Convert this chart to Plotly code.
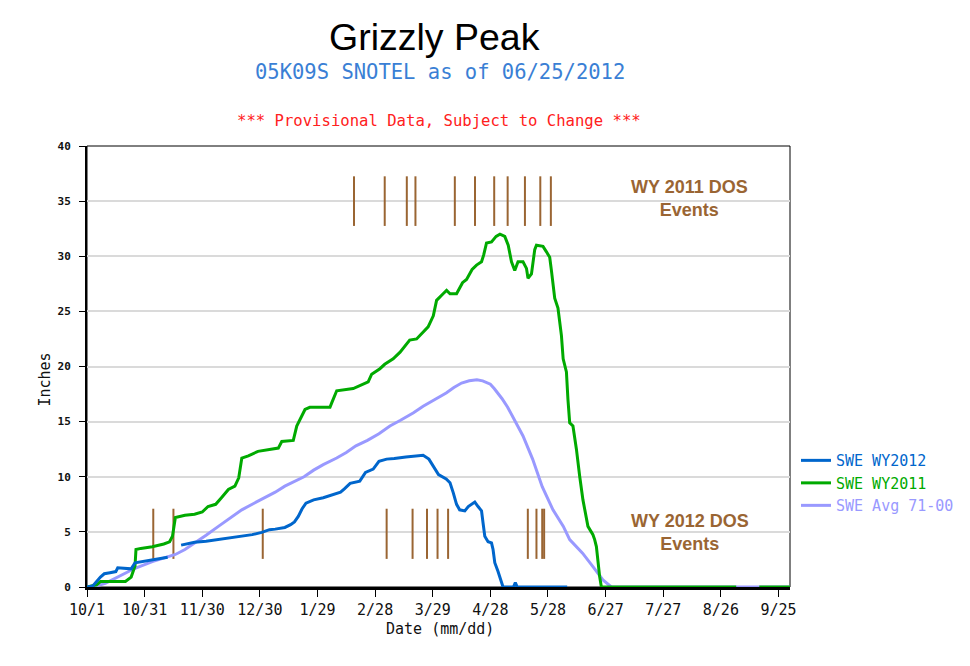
import plotly.graph_objects as go

# ---- data (day of water year, 0 = 10/1) ----
wy2012_day = [0, 3, 7, 9, 12, 15, 16, 20, 23, 25, 30, 34, 38, 42, None, 49, 53, 56, 62, 68, 75, 80, 86, 91, 95, 98,
              103, 106, 108, 110, 112, 114, 118, 123, 128, 132, 134, 137, 142, 145, 149, 152, 156, 160, 166, 171,
              175, 178, 181, 183, 187, 189, 190.7, 192.4, 194, 196.7, 198.5, 200.2, 201.9, 203.6, 205.4, 206.2,
              207.1, 208.8, 210.6, 211.4, 212.3, 214, 215.8, 216.6, 222, 223, 224, 250]
wy2012_swe = [0, 0.1, 0.9, 1.2, 1.3, 1.4, 1.75, 1.7, 1.65, 2.2, 2.35, 2.45, 2.6, 2.7, None, 3.8, 3.95, 4.05, 4.15,
              4.3, 4.45, 4.6, 4.75, 4.95, 5.2, 5.25, 5.4, 5.65, 5.9, 6.4, 7.1, 7.6, 7.9, 8.1, 8.4, 8.6, 8.9, 9.4,
              9.6, 10.4, 10.7, 11.4, 11.6, 11.65, 11.8, 11.85, 11.95, 11.6, 10.8, 10.2, 9.8, 9.45, 8.54, 7.5, 7.0,
              6.9, 7.3, 7.5, 7.7, 7.3, 6.9, 5.8, 4.6, 4.1, 4.0, 3.4, 2.2, 1.4, 0.5, 0, 0, 0.4, 0, 0]

wy2011_day = [0, 5, 7, 12, 20, 23, 25, 25.5, 28, 34, 40, 43, 44.5, 46, 51, 56, 60, 63, 67, 70, 73.6, 77, 79, 80.6,
              84, 89, 95, 99.6, 101.4, 107.4, 109.2, 111.8, 113.5, 116, 126.5, 127.4, 130, 138.6, 143, 146.4, 148.2,
              152.5, 155, 159.4, 163, 168, 171.6, 175, 177.6, 180.3, 182, 185.4, 187.2, 189, 192.4, 195.5, 197.6,
              200.5, 202.8, 205.4, 206.5, 208, 210.6, 213, 215, 217.5, 219.3, 221, 222.7, 224.4, 227, 228.8, 229.6,
              231.4, 233.1, 234, 237.4, 239.2, 240.9, 241.8, 243.5, 245.2, 247, 247.9, 249.6, 250.4, 251.3, 253,
              254.8, 256.5, 258.2, 260.8, 263.4, 264.3, 265.2, 266.9, 267.8, 338, None, 350, 366]
wy2011_swe = [0, 0.2, 0.5, 0.5, 0.5, 0.9, 1.9, 3.4, 3.5, 3.65, 3.9, 4.1, 4.6, 6.3, 6.5, 6.6, 6.8, 7.3, 7.5, 8.1,
              8.85, 9.15, 9.9, 11.7, 11.9, 12.3, 12.5, 12.6, 13.2, 13.3, 14.6, 15.5, 16.1, 16.3, 16.3, 16.7, 17.8,
              18.0, 18.3, 18.6, 19.3, 19.8, 20.2, 20.7, 21.3, 22.4, 22.5, 23.1, 23.6, 24.6, 26.0, 26.6, 26.9, 26.6,
              26.6, 27.6, 27.9, 28.8, 29.2, 29.5, 30.1, 31.2, 31.3, 31.8, 32.0, 31.8, 31.0, 29.5, 28.7, 29.5, 29.5,
              28.9, 28.0, 28.4, 30.6, 31.0, 30.9, 30.4, 29.9, 28.7, 26.2, 25.3, 22.8, 20.7, 19.5, 17.0, 14.9, 14.6,
              12.5, 10.05, 7.9, 5.5, 4.74, 4.3, 3.67, 0.94, 0, 0, None, 0, 0]

avg_day = [0, 5, 9.5, 16.4, 25, 34, 40, 46, 51, 56, 62, 68.4, 75, 80.6, 87, 92.7, 98, 103, 108, 113, 118, 123, 130,
           135, 140, 146, 152, 157.7, 163, 170, 175, 181, 187, 191, 195, 199, 203, 206, 210, 212, 216, 219, 222,
           227, 232, 237, 242.6, 248, 251.3, 255, 258, 263.4, 268.6, 273, 366]
avg_swe = [0, 0.1, 0.33, 0.94, 1.7, 2.3, 2.6, 2.95, 3.4, 3.97, 4.7, 5.5, 6.3, 7.0, 7.6, 8.1, 8.6, 9.15, 9.6, 10.0,
           10.6, 11.1, 11.7, 12.2, 12.8, 13.3, 13.9, 14.6, 15.1, 15.8, 16.4, 17.0, 17.6, 18.1, 18.5, 18.7, 18.8,
           18.7, 18.4, 18.0, 17.1, 16.3, 15.3, 13.7, 11.6, 9.1, 7.0, 5.5, 4.3, 3.6, 3.07, 1.85, 0.64, 0, 0]

events_2011 = [139, 155, 166.5, 171, 191.5, 202, 212, 219, 228, 236, 241.5]
events_2011_range = [32.75, 37.25]
events_2012 = [34.5, 45, 91.5, 156, 169.5, 177, 182.5, 188, 229.5, 234, 237, 238]
events_2012_range = [2.55, 7.1]

tick_days = [0, 30, 60, 90, 120, 150, 180, 210, 240, 270, 300, 330, 360]
tick_labels = ["10/1", "10/31", "11/30", "12/30", "1/29", "2/28", "3/29", "4/28", "5/28", "6/27", "7/27", "8/26", "9/25"]
y_ticks = [0, 5, 10, 15, 20, 25, 30, 35, 40]

C12 = "#0066CC"
C11 = "#00AA00"
CAVG = "#9999FF"
BROWN = "#9A6533"
MONO = "DejaVu Sans Mono"


def event_xy(days, rng):
    xs, ys = [], []
    for d in days:
        xs += [d, d, None]
        ys += [rng[0], rng[1], None]
    return xs, ys


fig = go.Figure()
for days, rng in [(events_2011, events_2011_range), (events_2012, events_2012_range)]:
    ex, ey = event_xy(days, rng)
    fig.add_trace(go.Scatter(x=ex, y=ey, mode="lines", line=dict(color=BROWN, width=2),
                             showlegend=False, hoverinfo="skip"))

fig.add_trace(go.Scatter(x=avg_day, y=avg_swe, mode="lines", line=dict(color=CAVG, width=3),
                         name=f"<span style='color:{CAVG}'>SWE Avg 71-00</span>"))
fig.add_trace(go.Scatter(x=wy2011_day, y=wy2011_swe, mode="lines", line=dict(color=C11, width=3),
                         name=f"<span style='color:{C11}'>SWE WY2011</span>"))
fig.add_trace(go.Scatter(x=wy2012_day, y=wy2012_swe, mode="lines", line=dict(color=C12, width=3),
                         name=f"<span style='color:{C12}'>SWE WY2012</span>"))

fig.update_layout(
    width=970, height=666,
    margin=dict(l=79, r=188, t=138, b=87),
    paper_bgcolor="white", plot_bgcolor="white",
    showlegend=True,
    legend=dict(x=1.0085, y=0.324, xanchor="left", yanchor="top", traceorder="reversed",
                font=dict(family=MONO, size=15), itemwidth=30, bgcolor="rgba(0,0,0,0)",
                tracegroupgap=0),
    xaxis=dict(range=[0, 366], tickvals=tick_days, ticktext=tick_labels, showgrid=False, zeroline=False,
               showline=True, linecolor="black", linewidth=3, ticks="outside", ticklen=7, tickwidth=1,
               tickcolor="black", tickfont=dict(family=MONO, size=15, color="#111"), layer="below traces"),
    yaxis=dict(range=[0, 40], tickvals=y_ticks, showgrid=True, gridcolor="#dadada", gridwidth=2,
               zeroline=False, showline=True, linecolor="black", linewidth=2, ticks="outside", ticklen=6,
               tickwidth=1, tickcolor="black", tickfont=dict(family=MONO, size=11, color="#111", weight="bold"),
               ticklabelstandoff=6, layer="below traces"),
    shapes=[dict(type="rect", xref="paper", yref="paper", x0=0, x1=1, y0=0, y1=1,
                 line=dict(color="black", width=1), layer="below")],
    annotations=[
        dict(text="Grizzly Peak", xref="paper", yref="paper", x=0.495, y=1.247, showarrow=False,
             font=dict(family="Liberation Sans, Arial", size=37.5, color="black"), xanchor="center", yanchor="middle"),
        dict(text="05K09S SNOTEL as of 06/25/2012", xref="paper", yref="paper", x=0.502, y=1.168,
             showarrow=False, font=dict(family=MONO, size=20.5, color="#3A7FD5"), xanchor="center", yanchor="middle"),
        dict(text="*** Provisional Data, Subject to Change ***", xref="paper", yref="paper", x=0.5, y=1.057,
             showarrow=False, font=dict(family=MONO, size=15.6, color="#FF2020"), xanchor="center", yanchor="middle"),
        dict(text="Inches", xref="paper", yref="paper", x=-0.06, y=0.47, textangle=-90, showarrow=False,
             font=dict(family=MONO, size=15, color="#111"), xanchor="center", yanchor="middle"),
        dict(text="Date (mm/dd)", xref="paper", yref="paper", x=0.502, y=-0.095, showarrow=False,
             font=dict(family=MONO, size=15, color="#111"), xanchor="center", yanchor="middle"),
        dict(text="<b>WY 2011 DOS</b><br><b>Events</b>", xref="x", yref="y", x=313.7, y=35.2, showarrow=False,
             font=dict(family="Liberation Sans, Arial", size=18, color=BROWN), xanchor="center", yanchor="middle"),
        dict(text="<b>WY 2012 DOS</b><br><b>Events</b>", xref="x", yref="y", x=313.7, y=4.9, showarrow=False,
             font=dict(family="Liberation Sans, Arial", size=18, color=BROWN), xanchor="center", yanchor="middle"),
    ],
)

fig.write_html("out.html")
